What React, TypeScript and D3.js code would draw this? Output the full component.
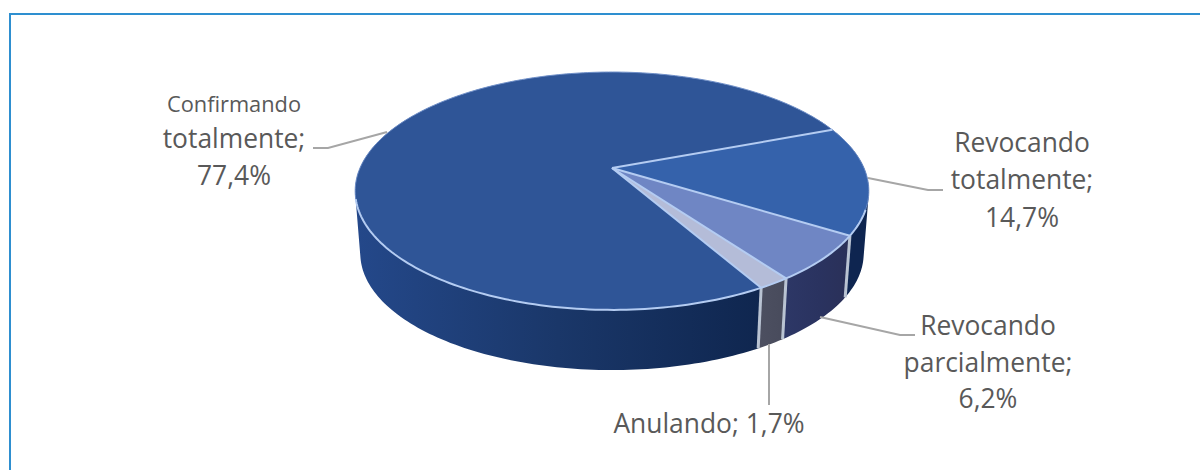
import React from "react";
import * as d3 from "d3";

const categories = ["Confirmando totalmente", "Revocando totalmente", "Revocando parcialmente", "Anulando"];
const values = [77.4, 14.7, 6.2, 1.7];
const topColors = ["#2f5597", "#3562ab", "#6f86c4", "#b4bcd8"];
const sideStops = [
  ["#24488a", "#1a3769", "#0f264f"],
  ["#0f2a5c", "#0e2550", "#0e2550"],
  ["#2d3766", "#2a3360", "#2a3058"],
  ["#4c4f60", "#4a4d5e", "#484b5c"],
];

const FONT = "'Open Sans', sans-serif";
const TEXT = "#595959";
const LEADER = "#a6a6a6";

const labels = [
  { lines: [{ t: "Confirmando", s: 21.8 }, { t: "totalmente;", s: 26.4 }, { t: "77,4%", s: 26.4 }], x: 234, ys: [112, 148, 185], leader: [[313, 148], [328, 148], [387, 132]] },
  { lines: [{ t: "Revocando", s: 26.4 }, { t: "totalmente;", s: 26.4 }, { t: "14,7%", s: 26.4 }], x: 1022, ys: [152, 189, 227], leader: [[868, 178], [928, 190], [943, 190]] },
  { lines: [{ t: "Revocando", s: 26.4 }, { t: "parcialmente;", s: 26.4 }, { t: "6,2%", s: 26.4 }], x: 988, ys: [335, 372, 408], leader: [[820, 317], [900, 335], [915, 335]] },
  { lines: [{ t: "Anulando; 1,7%", s: 26.4 }], x: 709, ys: [433], leader: [[769, 344], [769, 405]] },
];

// Perspective disc: unit circle projected with the near edge enlarged
const APEX = { x: 612, y: 168 };
const A = 252;
const B = 114.5;
const K = 0.193;
const DEPTH = 63;
const BASE_SCALE = 0.98;
const START_DEG = 150.5;

function rimTop(t: number): [number, number] {
  const u = Math.sin(t);
  const v = -Math.cos(t);
  const w = 1 - K * v;
  return [APEX.x + (A * u) / w, APEX.y + (B * v) / w];
}
function rimBottom(t: number): [number, number] {
  const u = Math.sin(t);
  const v = -Math.cos(t);
  const w = 1 - K * v;
  return [APEX.x + (BASE_SCALE * A * u) / w, APEX.y + (BASE_SCALE * B * v) / w + DEPTH];
}

const pieGen = d3
  .pie<number>()
  .sort(null)
  .startAngle((START_DEG * Math.PI) / 180)
  .endAngle((START_DEG * Math.PI) / 180 + 2 * Math.PI);
const arcs = pieGen(values);
const line = d3.line();

function sample(a: number, b: number, f: (t: number) => [number, number]) {
  const n = Math.max(2, Math.ceil(Math.abs(b - a) / 0.02));
  return d3.range(n + 1).map((i) => f(a + ((b - a) * i) / n));
}

// The wall is the sweep of the segment joining both rims; quads keep the silhouette tangents filled
function wallPath(lo: number, hi: number) {
  const top = sample(lo, hi, rimTop);
  const bot = sample(lo, hi, rimBottom);
  return d3
    .range(top.length - 1)
    .map((i) => {
      const quad = [top[i], top[i + 1], bot[i + 1], bot[i]] as [number, number][];
      // Same winding for every quad so that overlaps never cancel out
      const ordered = d3.polygonArea(quad) < 0 ? quad.slice().reverse() : quad;
      return (line(ordered) as string) + "Z";
    })
    .join("");
}

// Side walls run from behind the right silhouette, across the front, to behind the left one
const rad = (deg: number) => (deg * Math.PI) / 180;
const FRONT_A = rad(60);
const FRONT_B = rad(300);
const RIM_A = rad(110);
const RIM_B = rad(255);

function visibleRanges(a: number, b: number): [number, number][] {
  const out: [number, number][] = [];
  for (const k of [-1, 0, 1]) {
    const lo = Math.max(a, FRONT_A + k * 2 * Math.PI);
    const hi = Math.min(b, FRONT_B + k * 2 * Math.PI);
    if (hi > lo) out.push([lo, hi]);
  }
  return out;
}

export default function App() {
  const walls = arcs.flatMap((d, i) =>
    visibleRanges(d.startAngle, d.endAngle).map(([lo, hi], j) => ({ i, j, lo, hi }))
  );
  const boundaries = arcs.map((d) => d.startAngle);
  return (
    <svg
      width={1200}
      height={470}
      style={{ position: "absolute", left: 0, top: 0, background: "#fff" }}
    >
      <defs>
        {walls.map((w) => {
          const xs = sample(w.lo, w.hi, rimTop).map((p) => p[0]);
          const stops = sideStops[w.i];
          return (
            <linearGradient
              key={`${w.i}-${w.j}`}
              id={`wall-${w.i}-${w.j}`}
              gradientUnits="userSpaceOnUse"
              x1={d3.min(xs)}
              x2={d3.max(xs)}
              y1={0}
              y2={0}
            >
              <stop offset="0" stopColor={stops[0]} />
              <stop offset="0.5" stopColor={stops[1]} />
              <stop offset="1" stopColor={stops[2]} />
            </linearGradient>
          );
        })}
      </defs>

      <path d="M10 470 V14 H1200" fill="none" stroke="#2e8fd0" strokeWidth={2} />

      {walls.map((w) => (
        <path key={`${w.i}-${w.j}`} d={wallPath(w.lo, w.hi)} fill={`url(#wall-${w.i}-${w.j})`} />
      ))}

      {boundaries
        .filter((t) => {
          const n = ((t % (2 * Math.PI)) + 2 * Math.PI) % (2 * Math.PI);
          return n > FRONT_A && n < FRONT_B;
        })
        .map((t, i) => {
          const p = rimTop(t);
          const q = rimBottom(t);
          return <line key={i} x1={p[0]} y1={p[1]} x2={q[0]} y2={q[1]} stroke="#b9c3d2" strokeWidth={3} />;
        })}

      {arcs.map((d, i) => (
        <path
          key={categories[i]}
          d={(line([[APEX.x, APEX.y], ...sample(d.startAngle, d.endAngle, rimTop)]) as string) + "Z"}
          fill={topColors[i]}
        />
      ))}

      <path
        d={line(sample(RIM_B, RIM_A + 2 * Math.PI, rimTop)) as string}
        fill="none"
        stroke="#6f8fc8"
        strokeWidth={1}
      />
      <path d={line(sample(RIM_A, RIM_B, rimTop)) as string} fill="none" stroke="#b4ccf2" strokeWidth={2} />
      {boundaries.map((t, i) => {
        const p = rimTop(t);
        return <line key={i} x1={APEX.x} y1={APEX.y} x2={p[0]} y2={p[1]} stroke="#b4ccf2" strokeWidth={2} />;
      })}

      {labels.map((l, i) => (
        <g key={i}>
          <path d={line(l.leader as [number, number][]) as string} fill="none" stroke={LEADER} strokeWidth={2} />
          {l.lines.map((ln, j) => (
            <text key={j} x={l.x} y={l.ys[j]} textAnchor="middle" fontFamily={FONT} fontSize={ln.s} fill={TEXT}>
              {ln.t}
            </text>
          ))}
        </g>
      ))}
    </svg>
  );
}
